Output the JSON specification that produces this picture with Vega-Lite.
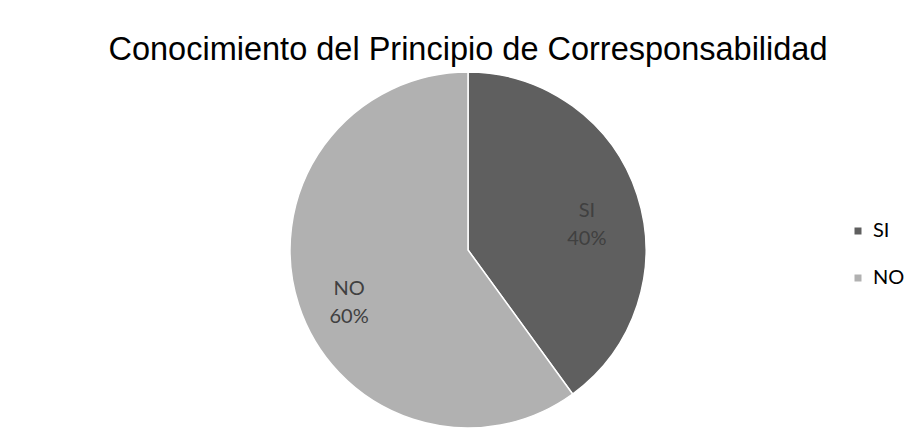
{
  "$schema": "https://vega.github.io/schema/vega-lite/v6.json",
  "autosize": {"type": "none"},
  "width": 892,
  "height": 358,
  "padding": {"left": 22, "top": 71, "right": 0, "bottom": 0},
  "background": "white",
  "config": {
    "view": {"stroke": null},
    "font": "Liberation Sans"
  },
  "title": {
    "text": "Conocimiento del Principio de Corresponsabilidad",
    "font": "Liberation Sans",
    "fontSize": 32.5,
    "fontWeight": "normal",
    "color": "#000000",
    "anchor": "middle",
    "offset": 3
  },
  "data": {
    "values": [
      {"categoria": "SI", "valor": 40, "orden": 1, "etiqueta": "SI\n40%"},
      {"categoria": "NO", "valor": 60, "orden": 2, "etiqueta": "NO\n60%"}
    ]
  },
  "encoding": {
    "theta": {"field": "valor", "type": "quantitative", "stack": true},
    "order": {"field": "orden", "type": "quantitative"}
  },
  "layer": [
    {
      "mark": {"type": "arc", "outerRadius": 178, "stroke": "#ffffff", "strokeWidth": 1.5},
      "encoding": {
        "color": {
          "field": "categoria",
          "type": "nominal",
          "sort": ["SI", "NO"],
          "scale": {"domain": ["SI", "NO"], "range": ["#5f5f5f", "#b1b1b1"]},
          "legend": {
            "title": null,
            "orient": "none",
            "legendX": 826,
            "legendY": 150,
            "padding": 0,
            "symbolType": "square",
            "symbolSize": 49,
            "symbolStrokeWidth": 0,
            "labelFont": "Lato",
            "labelFontSize": 20,
            "labelColor": "#000000",
            "labelOffset": 5,
            "rowPadding": 27
          }
        }
      }
    },
    {
      "mark": {"type": "text", "radius": 125, "font": "Lato", "fontSize": 20, "color": "#404040", "lineBreak": "\n", "lineHeight": 28, "baseline": "middle", "align": "center"},
      "encoding": {
        "text": {"field": "etiqueta", "type": "nominal"},
        "detail": {"field": "categoria", "type": "nominal"}
      }
    }
  ]
}
